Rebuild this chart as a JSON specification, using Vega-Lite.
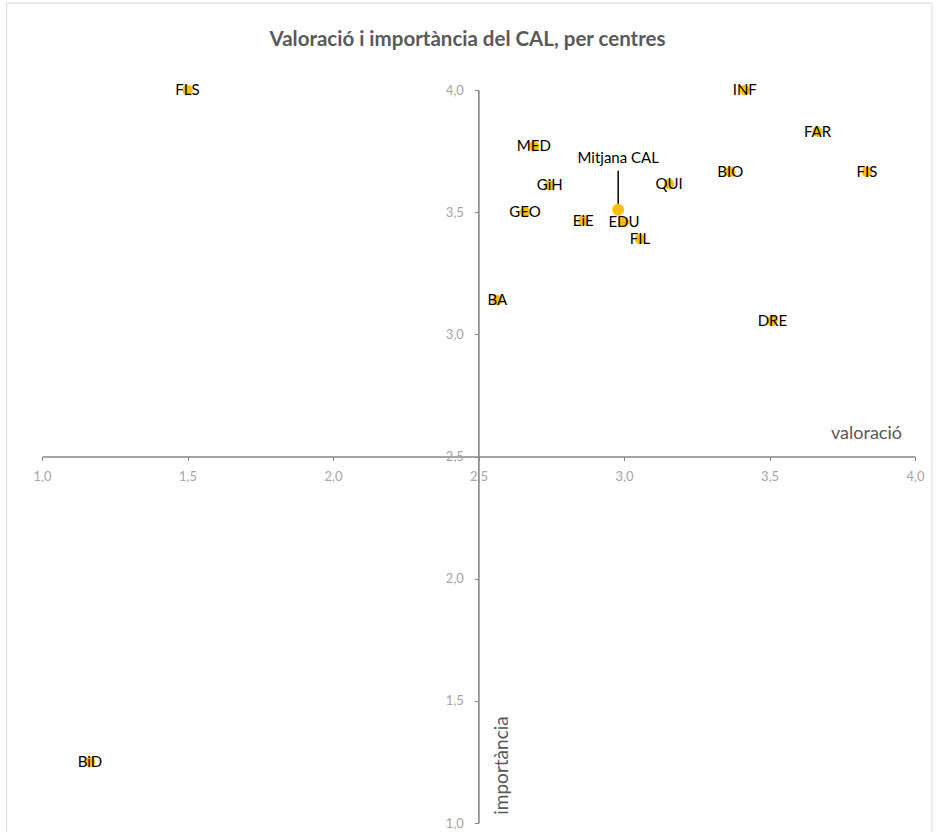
{
  "$schema": "https://vega.github.io/schema/vega-lite/v6.json",
  "width": 873,
  "height": 733,
  "autosize": {"type": "none"},
  "padding": {"left": 42, "top": 90, "right": 23, "bottom": 9},
  "background": "white",
  "config": {"view": {"stroke": null}},
  "title": {
    "text": "Valoració i importància del CAL, per centres",
    "font": "Lato",
    "fontSize": 20.5,
    "fontWeight": "bold",
    "color": "#595959",
    "anchor": "middle",
    "frame": "group",
    "dx": -11,
    "baseline": "middle",
    "offset": -58
  },
  "datasets": {
    "centres": [
      {"centre": "FLS", "valoracio": 1.5, "importancia": 4.0},
      {"centre": "MED", "valoracio": 2.69, "importancia": 3.77},
      {"centre": "GiH", "valoracio": 2.745, "importancia": 3.61},
      {"centre": "GEO", "valoracio": 2.66, "importancia": 3.5},
      {"centre": "EiE", "valoracio": 2.86, "importancia": 3.465},
      {"centre": "EDU", "valoracio": 3.0, "importancia": 3.46},
      {"centre": "FIL", "valoracio": 3.055, "importancia": 3.39},
      {"centre": "QUI", "valoracio": 3.155, "importancia": 3.615},
      {"centre": "INF", "valoracio": 3.415, "importancia": 4.0},
      {"centre": "FAR", "valoracio": 3.665, "importancia": 3.83},
      {"centre": "BIO", "valoracio": 3.365, "importancia": 3.665},
      {"centre": "FIS", "valoracio": 3.835, "importancia": 3.665},
      {"centre": "DRE", "valoracio": 3.51, "importancia": 3.055},
      {"centre": "BA", "valoracio": 2.565, "importancia": 3.14},
      {"centre": "BiD", "valoracio": 1.165, "importancia": 1.25}
    ],
    "mitjana": [
      {"centre": "Mitjana CAL", "valoracio": 2.98, "importancia": 3.51}
    ]
  },
  "layer": [
    {
      "data": {"values": [{}]},
      "mark": {"type": "rect", "fill": null, "stroke": "#d9d9d9", "strokeWidth": 1, "clip": false},
      "encoding": {
        "x": {"datum": 0.8787, "type": "quantitative", "scale": {"domain": [1, 4], "nice": false, "zero": false}, "axis": {
          "orient": "bottom", "offset": -366.5, "values": [1, 1.5, 2, 2.5, 3, 3.5, 4],
          "labelExpr": "replace(format(datum.value, '.1f'), '.', ',')",
          "grid": false, "domainColor": "#868686", "domainWidth": 1.6, "tickColor": "#868686", "tickSize": 4, "tickWidth": 1,
          "labelColor": "#a6a6a6", "labelFont": "Lato", "labelFontSize": 13, "labelPadding": 10, "labelFlush": false,
          "title": "valoració", "titleFont": "Lato", "titleFontSize": 18, "titleFontWeight": "normal", "titleColor": "#595959",
          "titleX": 824, "titleY": -23, "titleAlign": "center", "titleBaseline": "middle", "titleAnchor": null
        }},
        "x2": {"datum": 4.058},
        "y": {"datum": 4.356, "type": "quantitative", "scale": {"domain": [1, 4], "nice": false, "zero": false}, "axis": {
          "orient": "left", "offset": -436.4, "values": [1, 1.5, 2, 2.5, 3, 3.5, 4],
          "labelExpr": "replace(format(datum.value, '.1f'), '.', ',')",
          "grid": false, "domainColor": "#868686", "domainWidth": 1.6, "tickColor": "#868686", "tickSize": 4, "tickWidth": 1,
          "labelColor": "#a6a6a6", "labelFont": "Lato", "labelFontSize": 13, "labelPadding": 11, "labelFlush": false,
          "title": "importància", "titleFont": "Lato", "titleFontSize": 19, "titleFontWeight": "normal", "titleColor": "#595959",
          "titleX": 23, "titleY": 675, "titleAngle": 270, "titleAlign": "center", "titleBaseline": "middle", "titleAnchor": null
        }},
        "y2": {"datum": 0.95}
      }
    },
    {
      "data": {"name": "centres"},
      "mark": {"type": "circle", "size": 110, "color": "#FFC000", "opacity": 1},
      "encoding": {
        "x": {"field": "valoracio", "type": "quantitative"},
        "y": {"field": "importancia", "type": "quantitative"}
      }
    },
    {
      "data": {"name": "centres"},
      "mark": {"type": "text", "font": "Lato", "fontSize": 15, "color": "#000000", "align": "center", "baseline": "middle"},
      "encoding": {
        "x": {"field": "valoracio", "type": "quantitative"},
        "y": {"field": "importancia", "type": "quantitative"},
        "text": {"field": "centre"}
      }
    },
    {
      "data": {"name": "mitjana"},
      "mark": {"type": "rule", "color": "#000000", "strokeWidth": 1.5, "yOffset": -4, "y2Offset": -39},
      "encoding": {
        "x": {"field": "valoracio", "type": "quantitative"},
        "y": {"field": "importancia", "type": "quantitative"},
        "y2": {"field": "importancia"}
      }
    },
    {
      "data": {"name": "mitjana"},
      "mark": {"type": "circle", "size": 140, "color": "#FFC000", "opacity": 1},
      "encoding": {
        "x": {"field": "valoracio", "type": "quantitative"},
        "y": {"field": "importancia", "type": "quantitative"}
      }
    },
    {
      "data": {"name": "mitjana"},
      "mark": {"type": "text", "font": "Lato", "fontSize": 15, "color": "#000000", "align": "center", "baseline": "middle", "dy": -52},
      "encoding": {
        "x": {"field": "valoracio", "type": "quantitative"},
        "y": {"field": "importancia", "type": "quantitative"},
        "text": {"field": "centre"}
      }
    }
  ]
}
